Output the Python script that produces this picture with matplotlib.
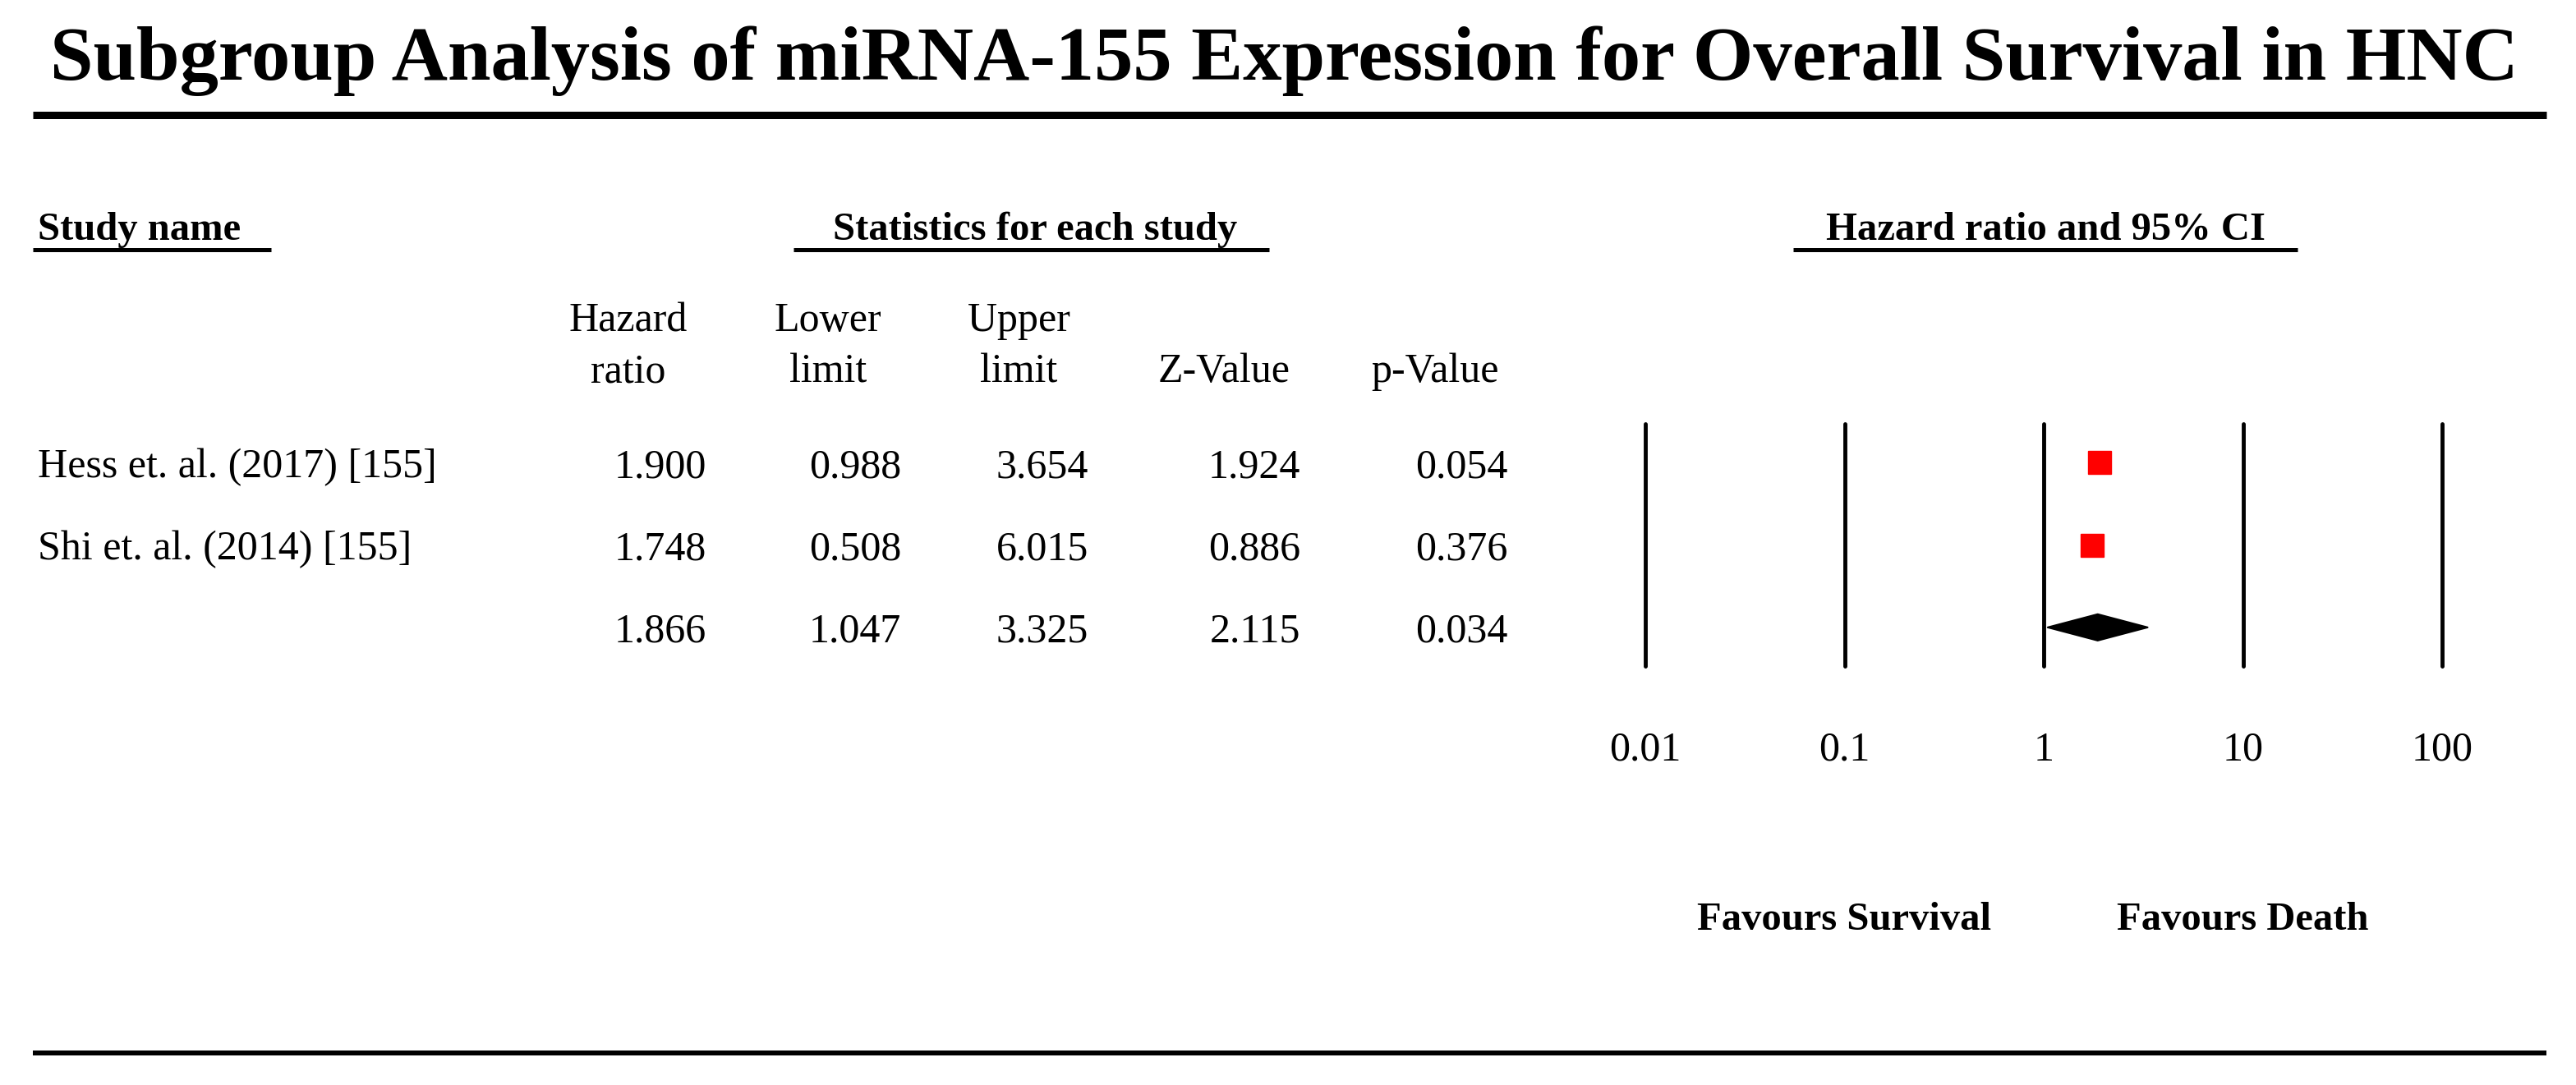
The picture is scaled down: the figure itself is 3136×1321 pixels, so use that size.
import matplotlib
matplotlib.use("Agg")
import matplotlib.pyplot as plt
import matplotlib.transforms as mtransforms
from matplotlib.patches import Polygon
from matplotlib.ticker import NullLocator

# ---------------- data ----------------
studies = ["Hess et. al. (2017) [155]", "Shi et. al. (2014) [155]", ""]
hazard_ratio = [1.900, 1.748, 1.866]
lower_limit = [0.988, 0.508, 1.047]
upper_limit = [3.654, 6.015, 3.325]
z_value = [1.924, 0.886, 2.115]
p_value = [0.054, 0.376, 0.034]
is_summary = [False, False, True]
tick_values = [0.01, 0.1, 1, 10, 100]
tick_labels = ["0.01", "0.1", "1", "10", "100"]

title = "Subgroup Analysis of miRNA-155 Expression for Overall Survival in HNC"
col_headers = [("Hazard", "ratio"), ("Lower", "limit"), ("Upper", "limit"), ("", "Z-Value"), ("", "p-Value")]

# ---------------- figure ----------------
W, H = 3136, 1321
plt.rcParams["font.family"] = ["Liberation Serif", "DejaVu Serif"]
fig = plt.figure(figsize=(W / 100, H / 100), dpi=100)
fig.patch.set_facecolor("white")

bg = fig.add_axes([0, 0, 1, 1])
bg.set_xlim(0, W)
bg.set_ylim(H, 0)
bg.axis("off")

px = 0.72  # points per pixel at 100 dpi

# title and rules
bg.text(1563, 97, title, ha="center", va="baseline", fontsize=68, fontweight="bold")
bg.plot([40, 3100], [139.5, 139.5], color="black", lw=9 * px, solid_capstyle="butt")
bg.plot([40, 3100], [1282, 1282], color="black", lw=6 * px, solid_capstyle="butt")

# section headers
hdr_fs = 35
bg.text(46, 292, "Study name", ha="left", va="baseline", fontsize=hdr_fs, fontweight="bold")
bg.plot([40, 330], [303.5, 303.5], color="black", lw=5 * px, solid_capstyle="butt")
bg.text(1260, 292, "Statistics for each study", ha="center", va="baseline", fontsize=hdr_fs, fontweight="bold")
bg.plot([966, 1545], [303.5, 303.5], color="black", lw=5 * px, solid_capstyle="butt")
bg.text(2490, 292, "Hazard ratio and 95% CI", ha="center", va="baseline", fontsize=hdr_fs, fontweight="bold")
bg.plot([2183, 2797], [303.5, 303.5], color="black", lw=5 * px, solid_capstyle="butt")

# column headers
body_fs = 36
header_centers = [765, 1008, 1240, 1490, 1747]
for xc, (l1, l2) in zip(header_centers, col_headers):
    if l1:
        bg.text(xc, 403, l1, ha="center", va="baseline", fontsize=body_fs)
    bg.text(xc, 465, l2, ha="center", va="baseline", fontsize=body_fs)

# forest axes
x0, x1 = 2003, 2973
y_top, y_bot = 516, 811
ax = fig.add_axes([x0 / W, 1 - y_bot / H, (x1 - x0) / W, (y_bot - y_top) / H])
ax.set_xscale("log")
ax.set_xlim(tick_values[0], tick_values[-1])
ax.set_ylim(2.47, -0.47)
for s in ax.spines.values():
    s.set_visible(False)
ax.patch.set_alpha(0)
ax.xaxis.set_minor_locator(NullLocator())
ax.set_xticks(tick_values)
ax.set_xticklabels(tick_labels, fontsize=body_fs)
ax.tick_params(axis="x", length=0, pad=57)
ax.tick_params(axis="y", left=False, labelleft=False)

for t in tick_values:
    ax.axvline(t, color="black", lw=3.5, solid_capstyle="round", clip_on=False)

rows = list(range(len(studies)))
for y, hr, lo, up, summ in zip(rows, hazard_ratio, lower_limit, upper_limit, is_summary):
    if summ:
        h = 0.16
        ax.add_patch(Polygon([(lo, y), (hr, y - h), (up, y), (hr, y + h)], closed=True,
                             facecolor="black", edgecolor="black", lw=1.5, joinstyle="round"))
    else:
        ax.plot([hr], [y], marker="s", color="#ff0000", ms=19.5, mec="#ff0000", ls="none")

# table text aligned with rows
row_tr = mtransforms.blended_transform_factory(bg.transData, ax.transData)
row_tr = mtransforms.offset_copy(row_tr, fig=fig, y=-18 * px, units="points")
col_right = [860, 1097, 1325, 1583, 1836]
for y, name, hr, lo, up, z, p in zip(rows, studies, hazard_ratio, lower_limit, upper_limit, z_value, p_value):
    if name:
        ax.text(46, y, name, transform=row_tr, ha="left", va="baseline", fontsize=body_fs)
    for xr, v in zip(col_right, [hr, lo, up, z, p]):
        ax.text(xr, y, f"{v:.3f}", transform=row_tr, ha="right", va="baseline", fontsize=body_fs)

# favours labels
fav_tr = mtransforms.blended_transform_factory(ax.transData, bg.transData)
ax.text(0.1, 1132, "Favours Survival", transform=fav_tr, ha="center", va="baseline",
        fontsize=hdr_fs, fontweight="bold")
ax.text(10, 1132, "Favours Death", transform=fav_tr, ha="center", va="baseline",
        fontsize=hdr_fs, fontweight="bold")

fig.savefig("out.png", dpi=100, facecolor="white")
